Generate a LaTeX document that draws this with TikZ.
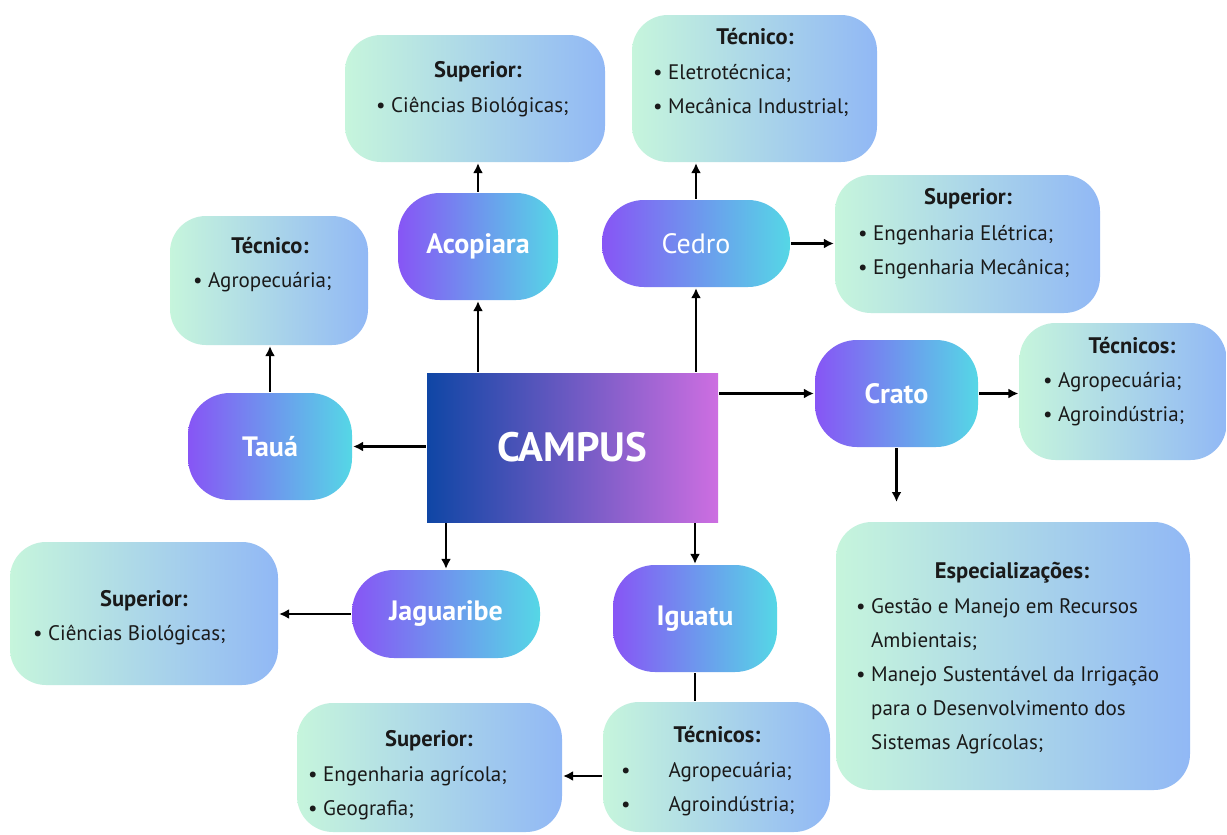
\documentclass[tikz,border=0pt]{standalone}
\usepackage{fontspec}
\setmainfont{PT Sans}
\usetikzlibrary{arrows.meta}

\definecolor{cityL}{HTML}{8755F5}
\definecolor{cityR}{HTML}{55D7E6}
\definecolor{infoL}{HTML}{C6F5DC}
\definecolor{infoR}{HTML}{91B8F5}
\definecolor{campL}{HTML}{0F46A5}
\definecolor{campR}{HTML}{CD6EE1}
\definecolor{ink}{HTML}{1A1A1A}

\begin{document}
\begin{tikzpicture}[x=1pt, y=-1pt, line width=2.2pt,
  city/.style={rounded corners=42pt, left color=cityL, right color=cityR, text=white, inner sep=0pt, font=\fontsize{28}{30}\selectfont\bfseries},
  info/.style={rounded corners=36pt, left color=infoL, right color=infoR, inner sep=0pt},
  ttl/.style={anchor=base, text=ink, inner sep=0pt, font=\fontsize{22.5}{34}\selectfont\bfseries},
  lst/.style={anchor=base west, text=ink, inner sep=0pt, font=\fontsize{21}{34}\selectfont},
  arr/.style={-{Latex[length=10pt,width=10pt]}}]
	\fill[white] (0,0) rectangle (1227,835);
	\useasboundingbox (0,0) rectangle (1227,835);
	% centre
	\node[left color=campL, right color=campR, text=white, minimum width=291pt, minimum height=149pt, font=\fontsize{41}{44}\selectfont\bfseries] (campus) at (572.5,447.5) {CAMPUS};
	% campi
	\node[city, minimum width=160pt, minimum height=107pt] (aco) at (478,246.5) {Acopiara};
	\node[city, minimum width=188pt, minimum height=87pt, font=\fontsize{28}{30}\selectfont\mdseries] (cedro) at (696,243.5) {Cedro};
	\node[city, minimum width=164pt, minimum height=107pt] (taua) at (270,446.5) {Tauá};
	\node[city, minimum width=163pt, minimum height=107pt] (crato) at (896.5,393.5) {Crato};
	\node[city, minimum width=188pt, minimum height=88pt] (jag) at (446,614) {Jaguaribe};
	\node[city, minimum width=164pt, minimum height=107pt] (igu) at (695,618.5) {Iguatu};
	% cursos
	\node[info, minimum width=260pt, minimum height=127pt] (supAco) at (475,98.5) {};
	\node[ttl] (supAcoT) at (478,77) {Superior:};
	\node[lst] (supAcoL) at (375,112) {\textbullet~Ciências Biológicas;};

	\node[info, minimum width=245pt, minimum height=147pt] (tecCed) at (754.5,88.5) {};
	\node[ttl] (tecCedT) at (755,44) {Técnico:};
	\node[lst] (tecCedL) at (652,79) {\begin{tabular}[t]{@{}l@{}}\textbullet~Eletrotécnica;\\ \textbullet~Mecânica Industrial;\end{tabular}};

	\node[info, minimum width=265pt, minimum height=138pt] (supCed) at (967.5,244) {};
	\node[ttl] (supCedT) at (968,204) {Superior:};
	\node[lst] (supCedL) at (857,240) {\begin{tabular}[t]{@{}l@{}}\textbullet~Engenharia Elétrica;\\ \textbullet~Engenharia Mecânica;\end{tabular}};

	\node[info, minimum width=198pt, minimum height=129pt] (tecTau) at (269,280.5) {};
	\node[ttl] (tecTauT) at (270,253) {Técnico:};
	\node[lst] (tecTauL) at (192,287) {\textbullet~Agropecuária;};

	\node[info, minimum width=207pt, minimum height=137pt] (tecCra) at (1123,391.5) {};
	\node[ttl] (tecCraT) at (1132,353) {Técnicos:};
	\node[lst] (tecCraL) at (1042,387) {\begin{tabular}[t]{@{}l@{}}\textbullet~Agropecuária;\\ \textbullet~Agroindústria;\end{tabular}};

	\node[info, minimum width=354pt, minimum height=268pt] (esp) at (1013,656) {};
	\node[ttl] (espT) at (1012,578) {Especializações:};
	\node[lst] (espL) at (855,613) {\begin{tabular}[t]{@{}l@{}}\textbullet~Gestão e Manejo em Recursos\\ \phantom{\textbullet~}Ambientais;\\ \textbullet~Manejo Sustentável da Irrigação\\ \phantom{\textbullet~}para o Desenvolvimento dos\\ \phantom{\textbullet~}Sistemas Agrícolas;\end{tabular}};

	\node[info, minimum width=268pt, minimum height=143pt] (supJag) at (144,613.5) {};
	\node[ttl] (supJagT) at (144,606) {Superior:};
	\node[lst] (supJagL) at (32,640) {\textbullet~Ciências Biológicas;};

	\node[info, minimum width=265pt, minimum height=129pt] (supIgu) at (429.5,767.5) {};
	\node[ttl] (supIguT) at (429,746) {Superior:};
	\node[lst] (supIguL) at (307,781) {\begin{tabular}[t]{@{}l@{}}\textbullet~Engenharia agrícola;\\ \textbullet~Geografia;\end{tabular}};

	\node[info, minimum width=227pt, minimum height=130pt] (tecIgu) at (716.5,767) {};
	\node[ttl] (tecIguT) at (717,742) {Técnicos:};
	\node[lst] (tecIguL) at (620,777) {\begin{tabular}[t]{@{}l@{\hspace{38pt}}l@{}}\textbullet & Agropecuária;\\ \textbullet & Agroindústria;\end{tabular}};
	% ligacoes
	\draw[arr] (campus.north -| aco.south) -- (aco.south);
	\draw[arr] (aco.north) -- (supAco.south -| aco.north);
	\draw[arr] (campus.north -| cedro.south) -- (cedro.south);
	\draw[arr] (cedro.north) -- (tecCed.south -| cedro.north);
	\draw[arr] (cedro.east) -- (supCed.west |- cedro.east);
	\draw[arr] (campus.east |- crato.west) -- (crato.west);
	\draw[arr] (crato.east) -- (tecCra.west |- crato.east);
	\coordinate (cratoTip) at (896.5,502);
	\draw[arr] (crato.south) -- (cratoTip);
	\draw[arr] (campus.west |- taua.east) -- (taua.east);
	\draw[arr] (taua.north) -- (tecTau.south -| taua.north);
	\draw[arr] (campus.south -| jag.north) -- (jag.north);
	\draw[arr] (jag.west) -- (supJag.east |- jag.west);
	\draw[arr] (campus.south -| igu.north) -- (igu.north);
	\draw (igu.south) -- (tecIgu.north -| igu.south);
	\draw[arr] ([yshift=-9pt]tecIgu.west) coordinate (iguArr) -- (iguArr -| supIgu.east);
\end{tikzpicture}
\end{document}
